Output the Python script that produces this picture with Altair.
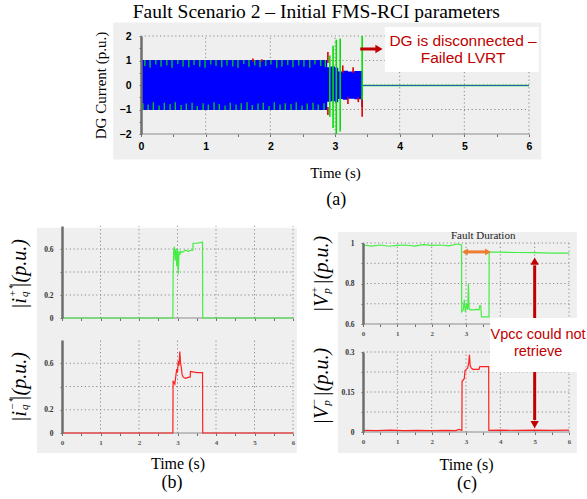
import altair as alt
import pandas as pd

W, H = 587, 499
SERIF, SANS = "Liberation Serif", "Liberation Sans"
BG, GRID, AXIS = "#efefef", "#8a8a8a", "#6e6e6e"
BLUE, GREEN_A, RED_A = "#0000ff", "#00e000", "#e00000"
GREEN, RED = "#44ee44", "#ff2020"
DARKRED, ORANGE = "#c00000", "#ed7d31"
DOT = [1.2, 2.6]

# ---------------- data ----------------
time_domain = [0, 6]
time_grid = [1, 2, 3, 4, 5, 6]
time_ticks = [0, 0.5, 1, 1.5, 2, 2.5, 3, 3.5, 4, 4.5, 5, 5.5, 6]
time_labels = [0, 1, 2, 3, 4, 5, 6]
c1_time_ticks = [0, 0.5, 1, 1.5, 2, 2.5, 3, 3.5]
c1_time_labels = [0, 1, 2, 3]

# (a) DG current
a_domain = [-2, 2]
a_ticks = [-2, -1.5, -1, -0.5, 0, 0.5, 1, 1.5, 2]
a_labels = [-2, -1, 0, 1, 2]
a_grid = [-1, 0, 1, 2]
a_band_t = [0.0, 2.88, 2.93, 3.0, 3.05, 3.12, 3.2, 3.3, 3.42]
a_band_hi = [1.02, 0.72, 0.76, 0.7, 0.55, 0.58, 0.55, 0.57, 0.57]
a_band_lo = [-1.02, -0.68, -0.66, -0.7, -0.57, -0.6, -0.56, -0.58, -0.58]
a_flat_t = [3.42, 6.0]
a_flat_v = [-0.02, -0.02]
a_gup_t = [0.06, 0.14, 0.23, 0.31, 0.4, 0.48, 0.57, 0.65, 0.74, 0.82, 0.91, 0.99, 1.08, 1.16, 1.25, 1.33, 1.42,
           1.5, 1.59, 1.67, 1.76, 1.84, 1.93, 2.01, 2.1, 2.18, 2.27, 2.35, 2.44, 2.52, 2.61, 2.69, 2.78, 2.85]
a_gup_lo = [0.78, 0.7, 0.84, 0.74, 0.8, 0.7, 0.86, 0.76, 0.72, 0.82, 0.74, 0.7, 0.84, 0.78, 0.72, 0.8, 0.76,
            0.7, 0.86, 0.74, 0.8, 0.72, 0.78, 0.84, 0.7, 0.76, 0.82, 0.72, 0.8, 0.74, 0.7, 0.84, 0.78, 0.72]
a_gdn_t = [0.03, 0.11, 0.19, 0.28, 0.36, 0.45, 0.53, 0.62, 0.7, 0.79, 0.87, 0.96, 1.04, 1.13, 1.21, 1.3, 1.38,
           1.47, 1.55, 1.64, 1.72, 1.81, 1.89, 1.98, 2.06, 2.15, 2.23, 2.32, 2.4, 2.49, 2.57, 2.66, 2.74, 2.83]
a_gdn_hi = [-0.74, -0.8, -0.7, -0.84, -0.72, -0.78, -0.7, -0.82, -0.76, -0.72, -0.86, -0.74, -0.8, -0.7, -0.78,
            -0.84, -0.72, -0.8, -0.74, -0.7, -0.82, -0.76, -0.72, -0.86, -0.7, -0.8, -0.74, -0.78, -0.7, -0.84,
            -0.76, -0.72, -0.8, -0.74]
a_gspike_t = [2.92, 2.97, 3.02, 3.08, 3.42]
a_gspike_lo = [-1.3, -1.75, -2.0, -1.9, -0.6]
a_gspike_hi = [1.2, 1.6, 1.85, 1.9, 2.0]
a_rspike_t = [1.73, 1.87, 2.89, 2.89, 3.12, 3.2, 3.28, 3.36, 3.42]
a_rspike_lo = [0.95, 0.95, 0.9, -1.22, 0.5, -0.78, 0.5, -0.7, -1.3]
a_rspike_hi = [1.08, 1.05, 1.35, -0.9, 0.8, -0.5, 0.72, -0.5, -0.4]
a_bspike_t = [3.42]
a_bspike_lo = [-0.9]
a_bspike_hi = [0.55]

# (b) reference currents
b_domain = [0, 0.8]
b_ticks = [0, 0.2, 0.4, 0.6]
b_labels = [0, 0.2, 0.6]
b_grid = [0.2, 0.4, 0.6]
b1_t = [0, 2.88, 2.885, 2.9, 2.92, 2.94, 2.96, 2.98, 3.0, 3.02, 3.04, 3.06, 3.08, 3.12, 3.2, 3.28, 3.36, 3.4,
        3.405, 3.5, 3.6, 3.65, 3.655, 6.0]
b1_v = [0, 0, 0.35, 0.58, 0.62, 0.5, 0.6, 0.45, 0.6, 0.38, 0.58, 0.55, 0.58, 0.57, 0.59, 0.58, 0.59, 0.59,
        0.65, 0.65, 0.655, 0.66, 0, 0]
b2_t = [0, 2.88, 2.885, 2.93, 2.96, 2.98, 3.0, 3.02, 3.04, 3.06, 3.08, 3.1, 3.12, 3.15, 3.2, 3.3, 3.33, 3.335,
        3.5, 3.65, 3.655, 6.0]
b2_v = [0, 0, 0.45, 0.42, 0.5, 0.55, 0.52, 0.62, 0.58, 0.7, 0.6, 0.56, 0.5, 0.48, 0.47, 0.48, 0.48, 0.53,
        0.52, 0.52, 0, 0]

# (c) PCC voltages
c1_domain = [0.6, 1.0]
c1_ticks = [0.6, 0.7, 0.8, 0.9, 1.0]
c1_labels = [0.6, 0.8, 1]
c1_grid = [0.7, 0.8, 0.9, 1.0]
c1_t = [0, 0.25, 0.5, 0.75, 1.0, 1.25, 1.5, 1.75, 2.0, 2.25, 2.5, 2.75, 2.87, 2.875, 2.92, 2.95, 2.98, 3.02,
        3.05, 3.07, 3.09, 3.12, 3.2, 3.3, 3.38, 3.4, 3.43, 3.45, 3.55, 3.67, 3.675, 4.0, 4.5, 5.0, 5.5, 6.0]
c1_v = [0.99, 0.985, 0.99, 0.984, 0.988, 0.99, 0.985, 0.992, 0.988, 0.99, 0.986, 0.995, 0.99, 0.66, 0.67,
        0.72, 0.66, 0.7, 0.67, 0.8, 0.68, 0.67, 0.67, 0.672, 0.67, 0.69, 0.69, 0.635, 0.635, 0.635, 0.955,
        0.955, 0.953, 0.952, 0.95, 0.95]
c2_domain = [0, 0.3]
c2_ticks = [0, 0.075, 0.15, 0.225, 0.3]
c2_labels = [0, 0.15, 0.3]
c2_grid = [0.075, 0.15, 0.225, 0.3]
c2_t = [0, 0.4, 0.8, 1.2, 1.6, 2.0, 2.4, 2.7, 2.8, 2.88, 2.885, 2.95, 2.97, 3.05, 3.08, 3.1, 3.12, 3.15, 3.2,
        3.3, 3.38, 3.4, 3.5, 3.66, 3.665, 4.0, 4.5, 5.0, 5.5, 6.0]
c2_v = [0.006, 0.005, 0.007, 0.005, 0.006, 0.005, 0.006, 0.005, 0.01, 0.006, 0.19, 0.2, 0.23, 0.24, 0.26,
        0.29, 0.25, 0.24, 0.235, 0.235, 0.235, 0.245, 0.245, 0.245, 0.006, 0.007, 0.006, 0.007, 0.006, 0.007]

# text
main_title = "Fault Scenario 2 \u2013 Initial FMS-RCI parameters"
dg_note = ["DG is disconnected \u2013", "Failed LVRT"]
vpcc_note = ["Vpcc could not", "retrieve"]

# ---------------- geometry (pixel ranges of each panel) ----------------
GA = dict(x=[141, 529], y=[134, 36])
GB1 = dict(x=[62, 293], y=[318, 226])
GB2 = dict(x=[62, 293], y=[433, 340])
GC1 = dict(x=[363, 569], y=[324, 243])
GC2 = dict(x=[363, 569], y=[432, 352])


def sc(domain, rng):
    return alt.Scale(domain=domain, range=rng, nice=False, zero=False)


def lab_expr(labels):
    arr = "[" + ",".join(repr(v) for v in labels) + "]"
    return "indexof(%s, datum.value) >= 0 ? format(datum.value, '~g') : ''" % arr


def x_axis(y_px, ticks, labels, size, font, weight, color, pad, title=None, title_y=None, title_size=16):
    kw = dict(orient="bottom", offset=y_px - H, values=ticks, labelExpr=lab_expr(labels), grid=False,
              domain=False, tickSize=2.5, tickColor=AXIS, tickWidth=1, labelFont=font, labelFontSize=size,
              labelFontWeight=weight, labelColor=color, labelPadding=pad, labelFlush=False,
              labelOverlap=False, labelAngle=0, labelBaseline="top", labelAlign="center", zindex=1)
    if title:
        kw.update(title=title, titleFont=SERIF, titleFontSize=title_size, titleFontWeight="normal",
                  titleColor="black", titleY=title_y, titleBaseline="middle", titleAngle=0, titleAlign="center")
    else:
        kw["title"] = None
    return alt.Axis(**kw)


def y_axis(x_px, ticks, labels, size, font, weight, color, pad, title=None, title_x=None, title_y=None,
           title_size=15):
    kw = dict(orient="left", offset=-x_px, values=ticks, labelExpr=lab_expr(labels), grid=False,
              domain=True, domainColor=AXIS, domainWidth=2.5, tickSize=2, tickColor=AXIS, labelFont=font,
              labelFontSize=size, labelFontWeight=weight, labelColor=color, labelPadding=pad,
              labelFlush=False, labelOverlap=False, labelAlign="right", labelBaseline="middle", zindex=1)
    if title:
        kw.update(title=title, titleFont=SERIF, titleFontSize=title_size, titleFontWeight="normal",
                  titleColor="black", titleX=title_x, titleY=title_y, titleAngle=270,
                  titleBaseline="middle", titleAlign="center")
    else:
        kw["title"] = None
    return alt.Axis(**kw)


def lay(df, mark, mk, xs, ys, x="x", y="y", x2=None, y2=None, xaxis=None, yaxis=None, text=None):
    enc = {"x": alt.X(f"{x}:Q", scale=xs, axis=xaxis), "y": alt.Y(f"{y}:Q", scale=ys, axis=yaxis)}
    if x2:
        enc["x2"] = alt.X2(f"{x2}:Q")
    if y2:
        enc["y2"] = alt.Y2(f"{y2}:Q")
    if text:
        enc["text"] = alt.Text(f"{text}:N")
    return getattr(alt.Chart(df), "mark_" + mark)(**mk).encode(**enc)


def grid_layers(xs, ys, ydom, hgrid, with_v=True):
    v = pd.DataFrame({"x": time_grid, "y": [ydom[0]] * len(time_grid), "y2": [ydom[1]] * len(time_grid)})
    h = pd.DataFrame({"y": hgrid, "x": [time_domain[0]] * len(hgrid), "x2": [time_domain[1]] * len(hgrid)})
    base = pd.DataFrame({"y": [ydom[0]], "x": [time_domain[0]], "x2": [time_domain[1]]})
    dmk = dict(color=GRID, strokeWidth=1, strokeDash=DOT)
    out = [lay(v, "rule", dmk, xs, ys, y2="y2")] if with_v else []
    return out + [lay(h, "rule", dmk, xs, ys, x2="x2"),
                  lay(base, "rule", dict(color="#8c8c8c", strokeWidth=1), xs, ys, x2="x2")]


def math_title(xs, ys, ax, ay, parts):
    out = []
    for txt_, align, dx, dy, size in parts:
        d = pd.DataFrame({"x": [ax], "y": [ay], "t": [txt_]})
        out.append(lay(d, "text", dict(font=SERIF, fontSize=size, fontStyle="italic", angle=270, align=align,
                                       baseline="middle", dx=dx, dy=dy, color="black"), xs, ys, text="t"))
    return out


def txt(xs, ys, xv, yv, labels, **mk):
    df = pd.DataFrame({"x": xv, "y": yv, "t": labels})
    return lay(df, "text", mk, xs, ys, text="t")


# ---------------- panel (a) ----------------
AX, AY = sc(time_domain, GA["x"]), sc(a_domain, GA["y"])
a_bg = pd.DataFrame({"x": [-0.43], "x2": [6.19], "y": [2.55], "y2": [-3.04]})
pa = [lay(a_bg, "rect", dict(color=BG), AX, AY, x2="x2", y2="y2",
          xaxis=x_axis(GA["y"][0], time_ticks, time_labels, 10.5, SANS, "bold", "black", 5,
                       title="Time (s)", title_y=38, title_size=15),
          yaxis=y_axis(GA["x"][0], a_ticks, a_labels, 10.5, SANS, "bold", "black", 8,
                       title="DG Current (p.u.)", title_x=-41, title_y=85, title_size=15))]
pa += grid_layers(AX, AY, a_domain, a_grid)
band = pd.DataFrame({"x": a_band_t, "y": a_band_hi, "y2": a_band_lo})
pa.append(lay(band, "area", dict(color=BLUE, interpolate="step-after", opacity=1), AX, AY, y2="y2"))
gup = pd.DataFrame({"x": a_gup_t, "y": a_gup_lo, "y2": [a_band_hi[0]] * len(a_gup_t)})
gdn = pd.DataFrame({"x": a_gdn_t, "y": a_gdn_hi, "y2": [a_band_lo[0]] * len(a_gdn_t)})
pa.append(lay(gup, "rule", dict(color=GREEN_A, strokeWidth=1.2), AX, AY, y2="y2"))
pa.append(lay(gdn, "rule", dict(color=GREEN_A, strokeWidth=1.2), AX, AY, y2="y2"))
flat = pd.DataFrame({"x": a_flat_t, "y": a_flat_v})
pa.append(lay(flat, "line", dict(color=GREEN_A, strokeWidth=1.6), AX, AY))
pa.append(lay(flat, "line", dict(color="#3050d0", strokeWidth=1.0, opacity=0.9), AX, AY))
for ts, lo, hi, col in [(a_bspike_t, a_bspike_lo, a_bspike_hi, BLUE),
                        (a_rspike_t, a_rspike_lo, a_rspike_hi, RED_A),
                        (a_gspike_t, a_gspike_lo, a_gspike_hi, GREEN_A)]:
    pa.append(lay(pd.DataFrame({"x": ts, "y": lo, "y2": hi}), "rule", dict(color=col, strokeWidth=1.6),
                  AX, AY, y2="y2"))
dg_box = pd.DataFrame({"x": [3.77], "x2": [6.15], "y": [2.37], "y2": [0.53]})
pa.append(lay(dg_box, "rect", dict(color="white"), AX, AY, x2="x2", y2="y2"))
pa.append(txt(AX, AY, [4.98, 4.98], [1.8, 1.1], dg_note, font=SANS, fontSize=15.5, color=DARKRED,
              align="center", baseline="middle"))
pa.append(lay(pd.DataFrame({"x": [3.39], "x2": [3.64], "y": [1.47]}), "rule",
              dict(color=DARKRED, strokeWidth=3), AX, AY, x2="x2"))
pa.append(lay(pd.DataFrame({"x": [3.68], "y": [1.47]}), "point",
              dict(shape="triangle-right", filled=True, color=DARKRED, size=70, opacity=1), AX, AY))
pa.append(txt(AX, AY, [2.71], [2.98], [main_title], font=SERIF, fontSize=19.5, color="black",
              align="center", baseline="middle"))
pa.append(txt(AX, AY, [3.02], [-4.69], ["(a)"], font=SERIF, fontSize=18, color="black",
              align="center", baseline="middle"))

# ---------------- panel (b) ----------------
BX, B1Y, B2Y = sc(time_domain, GB1["x"]), sc(b_domain, GB1["y"]), sc(b_domain, GB2["y"])
b_bg = pd.DataFrame({"x": [-0.65], "x2": [6.1], "y": [0.785], "y2": [-1.174]})
pb1 = [lay(b_bg, "rect", dict(color=BG), BX, B1Y, x2="x2", y2="y2",
           xaxis=x_axis(GB1["y"][0], time_ticks, [], 7, SERIF, "bold", "#555", 3),
           yaxis=y_axis(GB1["x"][0], b_ticks, b_labels, 7.5, SERIF, "bold", "#333", 7))]
pb1 += grid_layers(BX, B1Y, b_domain, b_grid)
pb1.append(lay(pd.DataFrame({"x": b1_t, "y": b1_v}), "line", dict(color=GREEN, strokeWidth=1.2), BX, B1Y))
pb1 += math_title(BX, B1Y, -1.09, 0.175, [("|i", "right", 0, 0, 20), ("+*", "left", 1, -7, 11),
                                          ("q", "left", 1, 5, 11), ("|(p.u.)", "left", 10, 0, 20)])

vb2 = pd.DataFrame({"x": time_grid, "y": [b_domain[0]] * len(time_grid), "y2": [b_domain[1]] * len(time_grid)})
pb2 = [lay(vb2, "rule", dict(color=GRID, strokeWidth=1, strokeDash=DOT), BX, B2Y, y2="y2",
           xaxis=x_axis(GB2["y"][0], time_ticks, time_labels, 7, SERIF, "bold", "#555", 3,
                        title="Time (s)", title_y=30, title_size=16),
           yaxis=y_axis(GB2["x"][0], b_ticks, b_labels, 7.5, SERIF, "bold", "#333", 7))]
pb2 += grid_layers(BX, B2Y, b_domain, b_grid, with_v=False)
pb2.append(lay(pd.DataFrame({"x": b2_t, "y": b2_v}), "line", dict(color=RED, strokeWidth=1.2), BX, B2Y))
pb2 += math_title(BX, B2Y, -1.09, 0.19, [("|i", "right", 0, 0, 20), ("\u2212*", "left", 1, -7, 11),
                                         ("q", "left", 1, 5, 11), ("|(p.u.)", "left", 10, 0, 20)])
pb2.append(txt(BX, B2Y, [2.86], [-0.43], ["(b)"], font=SERIF, fontSize=18, color="black",
               align="center", baseline="middle"))

# ---------------- panel (c) ----------------
CX, C1Y, C2Y = sc(time_domain, GC1["x"]), sc(c1_domain, GC1["y"]), sc(c2_domain, GC2["y"])
c_bg = pd.DataFrame({"x": [-0.73], "x2": [6.23], "y": [1.054], "y2": [-0.037]})
pc1 = [lay(c_bg, "rect", dict(color=BG), CX, C1Y, x2="x2", y2="y2",
           xaxis=x_axis(GC1["y"][0], c1_time_ticks, c1_time_labels, 7, SERIF, "bold", "#555", 3),
           yaxis=y_axis(GC1["x"][0], c1_ticks, c1_labels, 7.5, SERIF, "bold", "#333", 7))]
pc1 += grid_layers(CX, C1Y, c1_domain, c1_grid)
pc1.append(lay(pd.DataFrame({"x": c1_t, "y": c1_v}), "line", dict(color=GREEN, strokeWidth=1.2), CX, C1Y))
pc1.append(lay(pd.DataFrame({"x": [2.95], "x2": [3.62], "y": [0.956]}), "rule",
               dict(color=ORANGE, strokeWidth=3), CX, C1Y, x2="x2"))
pc1.append(lay(pd.DataFrame({"x": [2.97], "y": [0.956]}), "point",
               dict(shape="triangle-left", filled=True, color=ORANGE, size=45, opacity=1), CX, C1Y))
pc1.append(lay(pd.DataFrame({"x": [3.64], "y": [0.956]}), "point",
               dict(shape="triangle-right", filled=True, color=ORANGE, size=45, opacity=1), CX, C1Y))
pc1.append(txt(CX, C1Y, [3.5], [1.035], ["Fault Duration"], font=SERIF, fontSize=11, color="#222",
               align="center", baseline="middle"))
pc1 += math_title(CX, C1Y, -1.19, 0.745, [("|V", "right", 0, 0, 20), ("+", "left", 1, -7, 11),
                                          ("p", "left", 1, 5, 11), ("|(p.u.)", "left", 10, 0, 20)])

vc2 = pd.DataFrame({"x": time_grid, "y": [c2_domain[0]] * len(time_grid), "y2": [c2_domain[1]] * len(time_grid)})
pc2 = [lay(vc2, "rule", dict(color=GRID, strokeWidth=1, strokeDash=DOT), CX, C2Y, y2="y2",
           xaxis=x_axis(GC2["y"][0], time_ticks, time_labels, 7, SERIF, "bold", "#555", 3,
                        title="Time (s)", title_y=32, title_size=16),
           yaxis=y_axis(GC2["x"][0], c2_ticks, c2_labels, 7.5, SERIF, "bold", "#333", 7))]
pc2 += grid_layers(CX, C2Y, c2_domain, c2_grid, with_v=False)
pc2.append(lay(pd.DataFrame({"x": c2_t, "y": c2_v}), "line", dict(color=RED, strokeWidth=1.2), CX, C2Y))
pc2 += math_title(CX, C2Y, -1.19, 0.095, [("|V", "right", 0, 0, 20), ("\u2212", "left", 1, -7, 11),
                                          ("p", "left", 1, 5, 11), ("|(p.u.)", "left", 10, 0, 20)])
vp_box = pd.DataFrame({"x": [3.7], "x2": [6.6], "y": [0.4275], "y2": [0.225]})
pc2.append(lay(vp_box, "rect", dict(color="white"), CX, C2Y, x2="x2", y2="y2"))
pc2.append(txt(CX, C2Y, [5.1, 5.1], [0.364, 0.30], vpcc_note, font=SANS, fontSize=14.5, color=DARKRED,
               align="center", baseline="middle"))
pc2.append(lay(pd.DataFrame({"x": [5.0, 5.0], "y": [0.4275, 0.225], "y2": [0.625, 0.045]}), "rule",
               dict(color=DARKRED, strokeWidth=3), CX, C2Y, y2="y2"))
pc2.append(lay(pd.DataFrame({"x": [5.0], "y": [0.641]}), "point",
               dict(shape="triangle-up", filled=True, color=DARKRED, size=70, opacity=1), CX, C2Y))
pc2.append(lay(pd.DataFrame({"x": [5.0], "y": [0.028]}), "point",
               dict(shape="triangle-down", filled=True, color=DARKRED, size=70, opacity=1), CX, C2Y))
pc2.append(txt(CX, C2Y, [3.03], [-0.195], ["(c)"], font=SERIF, fontSize=18, color="black",
               align="center", baseline="middle"))

chart = (
    alt.layer(*(pa + pb1 + pb2 + pc1 + pc2))
    .resolve_scale(x="independent", y="independent")
    .resolve_axis(x="independent", y="independent")
    .properties(width=W, height=H, autosize=alt.AutoSizeParams(type="none"), padding=0, background="white")
    .configure_view(stroke=None)
)

chart.save("out.html", embed_options={"renderer": "svg", "actions": False})
